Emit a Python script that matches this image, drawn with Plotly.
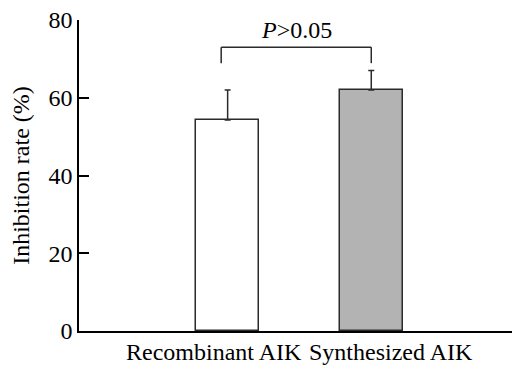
import plotly.graph_objects as go

categories = ["Recombinant AIK", "Synthesized AIK"]
means = [54.3, 62.0]
errors_up = [7.7, 5.0]
bar_colors = ["#ffffff", "#b3b3b3"]
y_ticks = [0, 20, 40, 60, 80]
p_label = "<i>P</i>>0.05"

x_pos = list(range(len(categories)))
FONT = "Liberation Serif"
FS = 24
LINE = "#2b2b2b"

fig = go.Figure()
fig.add_trace(go.Bar(
    x=x_pos, y=means, width=0.44,
    marker=dict(color=bar_colors, line=dict(color=LINE, width=1.5)),
    error_y=dict(type="data", symmetric=False, array=errors_up,
                 arrayminus=[0] * len(means), color=LINE, thickness=1.5, width=3),
    showlegend=False,
))

# significance bracket
top = max(m + e for m, e in zip(means, errors_up))
bracket_y = top + 6.0
leg_y = top + 1.9
xl, xr = x_pos[0] - 0.045, x_pos[1]
for (x0, y0, x1, y1) in [(xl, bracket_y, xr, bracket_y), (xl, leg_y, xl, bracket_y), (xr, leg_y, xr, bracket_y)]:
    fig.add_shape(type="line", x0=x0, y0=y0, x1=x1, y1=y1, xref="x", yref="y",
                  line=dict(color=LINE, width=1.5))
fig.add_annotation(x=(xl + xr) / 2, y=bracket_y, xref="x", yref="y",
                   text=p_label, showarrow=False, yanchor="bottom", yshift=2,
                   font=dict(family=FONT, size=FS, color="black"))

# category labels
shifts = [-14, 20]
for xp, lab, s in zip(x_pos, categories, shifts):
    fig.add_annotation(x=xp, y=0, xref="x", yref="paper", text=lab, showarrow=False,
                       yanchor="top", yshift=-6, xshift=s,
                       font=dict(family=FONT, size=FS, color="black"))

fig.update_layout(
    width=513, height=368,
    margin=dict(l=79, r=1, t=20, b=37, autoexpand=False),
    paper_bgcolor="white", plot_bgcolor="white",
    font=dict(family=FONT, size=FS, color="black"),
    bargap=0,
)
fig.update_xaxes(range=[-1.035, 1.98], showline=True, linecolor="black", linewidth=1.5,
                 showticklabels=False, ticks="", showgrid=False, zeroline=False,
                 automargin=False)
fig.update_yaxes(range=[0, 80], tickvals=y_ticks, showline=True, linecolor="black",
                 linewidth=1.5, ticks="inside", ticklen=10, tickwidth=1.5, tickcolor="black",
                 showgrid=False, zeroline=False, automargin=False,
                 title=dict(text="Inhibition rate (%)", standoff=12,
                            font=dict(family=FONT, size=FS, color="black")),
                 tickfont=dict(family=FONT, size=FS, color="black"))

fig.write_html("out.html", config={"displayModeBar": False},
               post_script="document.body.style.margin='0';")
